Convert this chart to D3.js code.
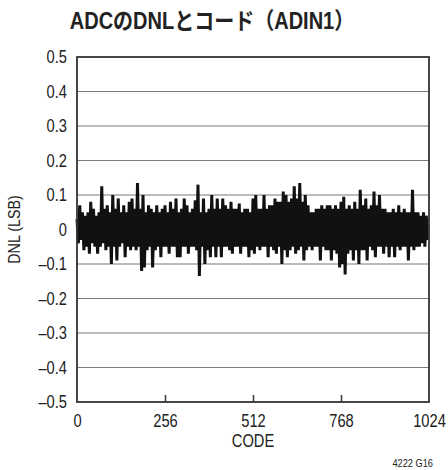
<!DOCTYPE html>
<html>
<head>
<meta charset="utf-8">
<script src="https://cdn.jsdelivr.net/npm/d3@7"></script>
<style>
body { margin: 0; background: #fff; }
text { font-family: "Liberation Sans", "Noto Sans CJK JP", sans-serif; fill: #222; }
</style>
</head>
<body>
<svg width="448" height="470"></svg>
<script>
// DNL, one value every 4 codes
var codeStep = 4
var dnl = [
    0.03,-0.04,0.07,-0.03,0.05,-0.06,0.04,-0.05,
    0.05,-0.07,0.08,-0.04,0.06,-0.05,0.04,-0.07,
    0.05,-0.05,0.125,-0.04,0.06,-0.06,0.07,-0.05,
    0.05,-0.10,0.10,-0.05,0.06,-0.09,0.09,-0.05,
    0.05,-0.04,0.07,-0.08,0.05,-0.05,0.08,-0.06,
    0.09,-0.05,0.06,-0.06,0.135,-0.05,0.06,-0.12,
    0.10,-0.11,0.05,-0.06,0.07,-0.05,0.06,-0.11,
    0.05,-0.06,0.07,-0.05,0.05,-0.08,0.06,-0.05,
    0.07,-0.05,0.05,-0.07,0.08,-0.05,0.06,-0.05,
    0.09,-0.08,0.05,-0.08,0.06,-0.05,0.09,-0.05,
    0.07,-0.07,0.05,-0.05,0.06,-0.05,0.085,-0.06,
    0.13,-0.135,0.05,-0.05,0.09,-0.10,0.05,-0.06,
    0.06,-0.08,0.10,-0.05,0.06,-0.08,0.09,-0.05,
    0.06,-0.08,0.09,-0.05,0.07,-0.05,0.06,-0.06,
    0.08,-0.07,0.06,-0.05,0.06,-0.05,0.075,-0.07,
    0.05,-0.05,0.06,-0.05,0.06,-0.08,0.05,-0.06,
    0.09,-0.07,0.10,-0.05,0.06,-0.06,0.06,-0.05,
    0.10,-0.05,0.06,-0.08,0.07,-0.05,0.07,-0.06,
    0.09,-0.07,0.08,-0.05,0.08,-0.10,0.11,-0.06,
    0.10,-0.08,0.08,-0.06,0.09,-0.05,0.125,-0.07,
    0.09,-0.06,0.135,-0.05,0.08,-0.09,0.10,-0.06,
    0.07,-0.05,0.05,-0.06,0.05,-0.05,0.06,-0.05,
    0.06,-0.09,0.07,-0.05,0.06,-0.06,0.07,-0.06,
    0.07,-0.09,0.06,-0.06,0.07,-0.07,0.06,-0.11,
    0.08,-0.10,0.095,-0.13,0.06,-0.07,0.07,-0.06,
    0.06,-0.09,0.08,-0.06,0.06,-0.10,0.115,-0.06,
    0.07,-0.06,0.09,-0.09,0.06,-0.05,0.07,-0.06,
    0.11,-0.08,0.07,-0.05,0.10,-0.05,0.06,-0.07,
    0.06,-0.05,0.05,-0.08,0.05,-0.05,0.06,-0.08,
    0.05,-0.05,0.07,-0.06,0.05,-0.05,0.06,-0.05,
    0.05,-0.09,0.05,-0.05,0.115,-0.06,0.05,-0.05,
    0.05,-0.05,0.04,-0.04,0.05,-0.05,0.04,-0.03
]
var xTicks = [0,256,512,768,1024]
var yTicks = [0.5,0.4,0.3,0.2,0.1,0,-0.1,-0.2,-0.3,-0.4,-0.5]
var title = "ADCのDNLとコード（ADIN1）"

var margins = {top:57,left:77,right:19,bottom:68}
var width = 448 - margins.left - margins.right
var height = 470 - margins.top - margins.bottom
var narrow = 0.84   // squeeze text to look like a condensed face

var svg = d3.select("svg")
var graph = svg.append("g")
    .attr("transform","translate("+margins.left+","+margins.top+")")

var xScale = d3.scaleLinear().domain([0,1024]).range([0,width])
var yScale = d3.scaleLinear().domain([-0.5,0.5]).range([height,0])

var fmt = function(d)
{
    if(d==0) return "0"
    return (d<0?"\u2013":"")+Math.abs(d).toFixed(1)
}

// grid lines
graph.append("g")
    .selectAll("line")
    .data(yTicks.filter(function(d){return Math.abs(d)<0.5}))
    .enter()
    .append("line")
    .attr("x1",0)
    .attr("x2",width)
    .attr("y1",function(d){return yScale(d)})
    .attr("y2",function(d){return yScale(d)})
    .attr("stroke","#7a7a7a")
    .attr("stroke-width",1.2)

// data
var lineGenerator = d3.line()
    .x(function(v,i){return xScale(i*codeStep)})
    .y(function(v){return yScale(v)})

graph.append("path")
    .datum(dnl)
    .attr("d",lineGenerator)
    .attr("fill","none")
    .attr("stroke","#111")
    .attr("stroke-width",3)
    .attr("stroke-linejoin","bevel")

// x axis
var xAxis = d3.axisBottom(xScale)
    .tickValues(xTicks)
    .tickSize(-7)
    .tickPadding(13)
    .tickFormat(d3.format("d"))

graph.append("g")
    .attr("id","xAxis")
    .attr("transform","translate(0,"+height+")")
    .call(xAxis)

// y axis
var yAxis = d3.axisLeft(yScale)
    .tickValues(yTicks)
    .tickSize(0)
    .tickPadding(10)
    .tickFormat(fmt)

graph.append("g")
    .attr("id","yAxis")
    .call(yAxis)

svg.selectAll(".domain").remove()
svg.selectAll(".tick text")
    .attr("font-size",17.5)
    .attr("font-family","'Liberation Sans', sans-serif")
    .attr("fill","#222")
    .attr("transform","scale("+narrow+",1)")
svg.selectAll("#yAxis .tick text")
    .attr("x",-10/narrow)
svg.selectAll("#xAxis .tick line")
    .attr("stroke","#333")
    .attr("stroke-width",1.5)
    .filter(function(d){return d==0||d==1024}).remove()

// frame
graph.append("rect")
    .attr("width",width)
    .attr("height",height)
    .attr("fill","none")
    .attr("stroke","#333")
    .attr("stroke-width",1.8)

svg.append("text")
    .attr("transform","translate(212,29) scale(0.87,1)")
    .attr("text-anchor","middle")
    .attr("font-size",23)
    .attr("font-weight","bold")
    .text(title)

svg.append("text")
    .attr("transform","translate("+(margins.left+width/2)+",447) scale("+narrow+",1)")
    .attr("text-anchor","middle")
    .attr("font-size",17.5)
    .text("CODE")

svg.append("text")
    .attr("transform","translate(20,"+(margins.top+height/2)+") rotate(-90) scale("+narrow+",1)")
    .attr("text-anchor","middle")
    .attr("font-size",17)
    .text("DNL (LSB)")

svg.append("text")
    .attr("transform","translate(433,467) scale("+narrow+",1)")
    .attr("text-anchor","end")
    .attr("font-size",11)
    .text("4222 G16")
</script>
</body>
</html>
